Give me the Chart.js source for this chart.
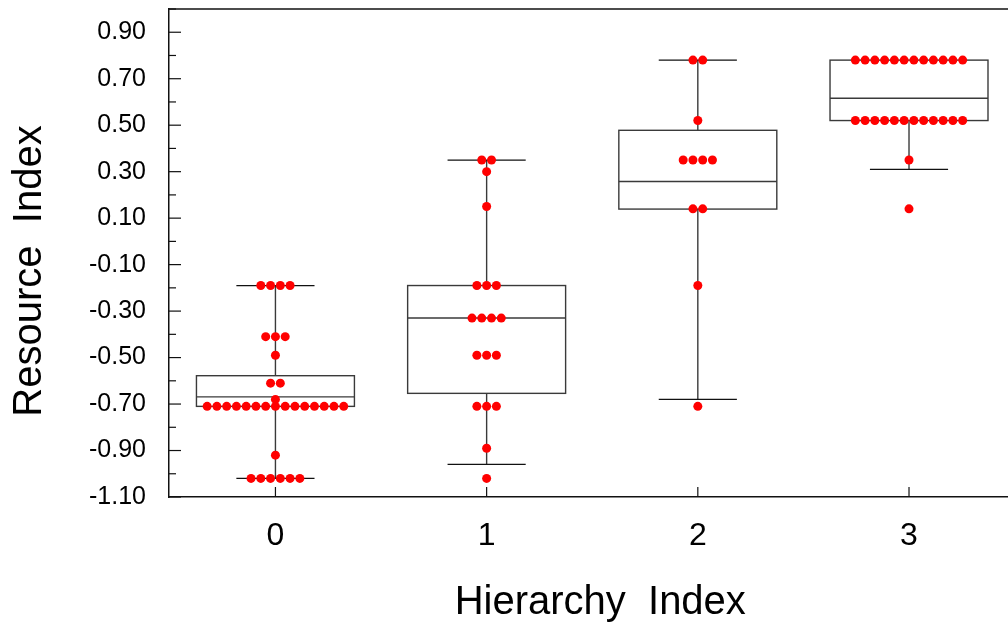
<!DOCTYPE html>
<html>
<head>
<meta charset="utf-8">
<title>Resource Index by Hierarchy Index</title>
<script src="https://cdn.jsdelivr.net/npm/chart.js@4.4.1/dist/chart.umd.min.js"></script>
<style>
html, body { margin: 0; padding: 0; background: #fff; overflow: hidden; }
canvas { display: block; }
</style>
</head>
<body>
<canvas id="boxChart" width="1036" height="625"></canvas>
<script>
const categories = ["0", "1", "2", "3"];

/* box statistics */
const whiskerLow  = [-1.02, -0.96, -0.68, 0.31];
const q1          = [-0.71, -0.654, 0.139, 0.52];
const medians     = [-0.669, -0.33, 0.258, 0.616];
const q3          = [-0.578, -0.19, 0.478, 0.78];
const whiskerHigh = [-0.19, 0.35, 0.78, 0.78];

/* single observations per group */
const group0 = [-0.19, -0.19, -0.19, -0.19,
                -0.41, -0.41, -0.41,
                -0.49,
                -0.61, -0.61,
                -0.68,
                -0.71, -0.71, -0.71, -0.71, -0.71, -0.71, -0.71, -0.71,
                -0.71, -0.71, -0.71, -0.71, -0.71, -0.71, -0.71,
                -0.92,
                -1.02, -1.02, -1.02, -1.02, -1.02, -1.02];
const group1 = [0.35, 0.35, 0.30, 0.15,
                -0.19, -0.19, -0.19,
                -0.33, -0.33, -0.33, -0.33,
                -0.49, -0.49, -0.49,
                -0.71, -0.71, -0.71,
                -0.89, -1.02];
const group2 = [0.78, 0.78, 0.52,
                0.35, 0.35, 0.35, 0.35,
                0.14, 0.14,
                -0.19, -0.71];
const group3 = [0.78, 0.78, 0.78, 0.78, 0.78, 0.78, 0.78, 0.78, 0.78, 0.78, 0.78, 0.78,
                0.52, 0.52, 0.52, 0.52, 0.52, 0.52, 0.52, 0.52, 0.52, 0.52, 0.52, 0.52,
                0.35, 0.14];
const groups = [group0, group1, group2, group3];

const yTitle = "Resource  Index";
const xTitle = "Hierarchy  Index";

const fontFamily = "'Liberation Sans', Arial, Helvetica, sans-serif";
const dotGap = 0.0462;   // horizontal step between equal values (x units)
const boxHalf = 0.374;
const capHalf = 0.185;

/* swarm: equal values sit side by side, centred on the group */
const points = [];
groups.forEach((vals, g) => {
    const counts = {};
    vals.forEach(v => counts[v] = (counts[v] || 0) + 1);
    const seen = {};
    vals.forEach(v => {
        const k = seen[v] || 0;
        seen[v] = k + 1;
        points.push({ x: g + (k - (counts[v] - 1) / 2) * dotGap, y: v });
    });
});

function isMajor(v) {
    return Math.abs(Math.round(v * 10)) % 2 === 1;
}

function line(ctx, x1, y1, x2, y2) {
    ctx.beginPath();
    ctx.moveTo(x1, y1);
    ctx.lineTo(x2, y2);
    ctx.stroke();
}

/* boxes, whiskers, inward ticks, top frame, y title */
const boxPlugin = {
    id: "boxes",
    beforeDatasetsDraw(chart) {
        const { ctx, chartArea: a, scales: { x, y } } = chart;
        ctx.save();

        ctx.strokeStyle = "#111";
        ctx.lineWidth = 1.5;
        line(ctx, a.left, a.top, a.right, a.top);

        ctx.lineWidth = 1.2;
        y.ticks.forEach(t => {
            const py = y.getPixelForValue(t.value);
            line(ctx, a.left, py, a.left + (isMajor(t.value) ? 12 : 7), py);
        });
        x.ticks.forEach(t => {
            const px = x.getPixelForValue(t.value);
            line(ctx, px, a.bottom, px, a.bottom - 10);
        });

        categories.forEach((c, i) => {
            const cx = x.getPixelForValue(i);
            const bl = x.getPixelForValue(i - boxHalf);
            const br = x.getPixelForValue(i + boxHalf);
            const cl = x.getPixelForValue(i - capHalf);
            const cr = x.getPixelForValue(i + capHalf);
            const yLo = y.getPixelForValue(whiskerLow[i]);
            const yQ1 = y.getPixelForValue(q1[i]);
            const yMed = y.getPixelForValue(medians[i]);
            const yQ3 = y.getPixelForValue(q3[i]);
            const yHi = y.getPixelForValue(whiskerHigh[i]);

            ctx.strokeStyle = "#3a3a3a";
            ctx.lineWidth = 1.4;
            ctx.strokeRect(bl, yQ3, br - bl, yQ1 - yQ3);
            line(ctx, bl, yMed, br, yMed);
            if (yHi < yQ3) line(ctx, cx, yQ3, cx, yHi);
            if (yLo > yQ1) line(ctx, cx, yQ1, cx, yLo);

            ctx.strokeStyle = "#111";
            ctx.lineWidth = 1.2;
            if (yHi < yQ3) line(ctx, cl, yHi, cr, yHi);
            if (yLo > yQ1) line(ctx, cl, yLo, cr, yLo);
        });

        // y title sits a little below the middle of the axis in the original
        ctx.fillStyle = "#000";
        ctx.font = "40px " + fontFamily;
        ctx.textAlign = "center";
        ctx.textBaseline = "middle";
        ctx.translate(30, 271);
        ctx.rotate(-Math.PI / 2);
        ctx.fillText(yTitle, 0, 0);

        ctx.restore();
    }
};

new Chart(document.getElementById("boxChart"), {
    type: "scatter",
    data: {
        datasets: [{
            label: yTitle,
            data: points,
            backgroundColor: "#ff0000",
            borderWidth: 0,
            pointRadius: 4.5,
            pointHoverRadius: 4.5
        }]
    },
    options: {
        responsive: false,
        animation: false,
        layout: { padding: { top: 9, right: 0, bottom: 0, left: 0 } },
        plugins: {
            legend: { display: false },
            tooltip: { enabled: false }
        },
        scales: {
            x: {
                type: "linear",
                min: -0.504,
                max: 3.58,
                afterBuildTicks: s => { s.ticks = categories.map((c, i) => ({ value: i })); },
                afterFit: s => {
                    s.height = 128;
                    s.paddingLeft = 0;
                    s.paddingRight = 0;
                },
                grid: { display: false, drawTicks: false },
                border: { display: true, color: "#111", width: 1.5 },
                ticks: {
                    callback: v => categories[v],
                    font: { family: fontFamily, size: 32 },
                    color: "#000",
                    padding: 20,
                    maxRotation: 0,
                    autoSkip: false
                },
                title: {
                    display: true,
                    text: xTitle,
                    font: { family: fontFamily, size: 40, lineHeight: 1.1 },
                    color: "#000",
                    padding: 0
                }
            },
            y: {
                min: -1.1,
                max: 1.0,
                afterFit: s => {
                    s.width = 169;
                    s.paddingTop = 0;
                    s.paddingBottom = 0;
                },
                grid: { display: false, drawTicks: false },
                border: { display: true, color: "#111", width: 1.5 },
                ticks: {
                    stepSize: 0.1,
                    autoSkip: false,
                    callback: v => isMajor(v) ? v.toFixed(2) : "",
                    font: { family: fontFamily, size: 25 },
                    color: "#000",
                    padding: 23
                },
                title: { display: false }
            }
        }
    },
    plugins: [boxPlugin]
});
</script>
</body>
</html>
